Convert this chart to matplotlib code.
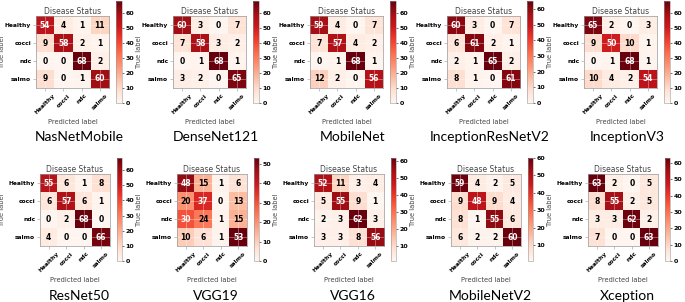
import numpy as np
import matplotlib
matplotlib.use("Agg")
import matplotlib.pyplot as plt

classes = ["Healthy", "cocci", "ndc", "salmo"]

models = ["NasNetMobile", "DenseNet121", "MobileNet", "InceptionResNetV2", "InceptionV3",
          "ResNet50", "VGG19", "VGG16", "MobileNetV2", "Xception"]

nasnetmobile = [[54, 4, 1, 11], [9, 58, 2, 1], [0, 0, 68, 2], [9, 0, 1, 60]]
densenet121 = [[60, 3, 0, 7], [7, 58, 3, 2], [0, 1, 68, 1], [3, 2, 0, 65]]
mobilenet = [[59, 4, 0, 7], [7, 57, 4, 2], [0, 1, 68, 1], [12, 2, 0, 56]]
inceptionresnetv2 = [[60, 3, 0, 7], [6, 61, 2, 1], [2, 1, 65, 2], [8, 1, 0, 61]]
inceptionv3 = [[65, 2, 0, 3], [9, 50, 10, 1], [0, 1, 68, 1], [10, 4, 2, 54]]
resnet50 = [[55, 6, 1, 8], [6, 57, 6, 1], [0, 2, 68, 0], [4, 0, 0, 66]]
vgg19 = [[48, 15, 1, 6], [20, 37, 0, 13], [30, 24, 1, 15], [10, 6, 1, 53]]
vgg16 = [[52, 11, 3, 4], [5, 55, 9, 1], [2, 3, 62, 3], [3, 3, 8, 56]]
mobilenetv2 = [[59, 4, 2, 5], [9, 48, 9, 4], [8, 1, 55, 6], [6, 2, 2, 60]]
xception = [[63, 2, 0, 5], [8, 55, 2, 5], [3, 3, 62, 2], [7, 0, 0, 63]]

matrices = [nasnetmobile, densenet121, mobilenet, inceptionresnetv2, inceptionv3,
            resnet50, vgg19, vgg16, mobilenetv2, xception]

W, H = 685, 302
fig = plt.figure(figsize=(W / 100, H / 100), dpi=100)


def px(x, y, w, h):
    # pixel box (top-left origin) -> figure fraction
    return [x / W, 1 - (y + h) / H, w / W, h / H]


# per-row layout in panel pixel coords
rows = [
    dict(oy=0, mat=(36, 16, 73, 72), cb=(116, 1, 6, 102), name_y=137),
    dict(oy=151, mat=(40, 23, 70, 72), cb=(117, 7, 5, 103), name_y=145),
]

gray = "#444444"

for k, (name, m) in enumerate(zip(models, matrices)):
    r = rows[k // 5]
    ox = (k % 5) * 137
    oy = r["oy"]
    cm = np.array(m)
    mx, my, mw, mh = r["mat"]
    ax = fig.add_axes(px(ox + mx, oy + my, mw, mh))
    im = ax.imshow(cm, cmap="Reds", interpolation="nearest", aspect="auto")
    ax.set_xticks(range(4))
    ax.set_yticks(range(4))
    ax.set_xticklabels(classes, rotation=45, fontsize=4.3, fontweight="bold")
    ax.set_yticklabels(classes, fontsize=4.3, fontweight="bold")
    ax.tick_params(length=2.5, width=0.4, color="#999999", pad=1)
    for s in ax.spines.values():
        s.set_color("#999999")
        s.set_linewidth(0.5)
    for t in range(4):
        ax.axvline(t, color="white", lw=0.4, alpha=0.6)
        ax.axhline(t, color="white", lw=0.4, alpha=0.6)
    thresh = cm.max() / 2.0
    for i in range(4):
        for j in range(4):
            ax.text(j, i, str(cm[i, j]), ha="center", va="center", fontsize=5.5,
                    fontweight="bold", color="white" if cm[i, j] > thresh else "black")
    ax.set_title("Disease Status", fontsize=5.5, color=gray, pad=1.5)
    ax.set_xlabel("Predicted label", fontsize=4.8, color=gray, labelpad=3)
    ax.set_ylabel("True label", fontsize=4.8, color=gray)
    ax.yaxis.set_label_coords((5 - mx) / mw, 0.5)

    cx, cy, cw, ch = r["cb"]
    cax = fig.add_axes(px(ox + cx, oy + cy, cw, ch))
    cb = fig.colorbar(im, cax=cax)
    cb.outline.set_linewidth(0.4)
    cb.outline.set_edgecolor("#999999")
    cax.tick_params(labelsize=4.5, length=1.5, width=0.4, pad=1)
    for lab in cax.get_yticklabels():
        lab.set_fontweight("bold")

    fig.text((ox + 79) / W, 1 - (oy + r["name_y"]) / H, name, ha="center", va="center",
             fontsize=10, family=["Lato", "DejaVu Sans"])

fig.savefig("out.png", dpi=100)
